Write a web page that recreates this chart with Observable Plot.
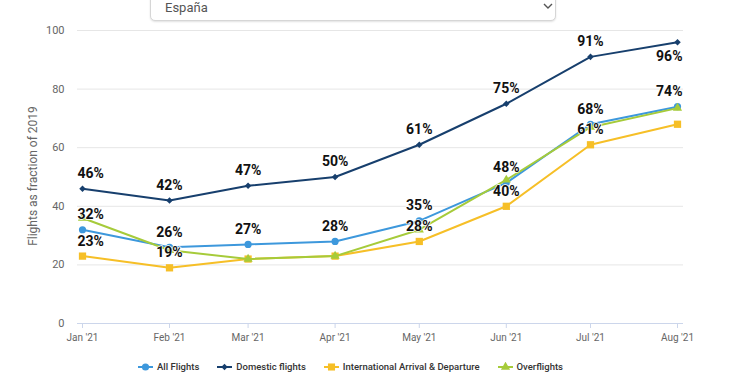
<!DOCTYPE html>
<html><head><meta charset="utf-8">
<script src="https://cdn.jsdelivr.net/npm/d3@7"></script>
<script src="https://cdn.jsdelivr.net/npm/@observablehq/plot@0.6"></script>
<style>
body{margin:0;background:#fff;font-family:Roboto,sans-serif;}
#wrap{position:relative;width:750px;height:375px;overflow:hidden;}
#chart{position:absolute;left:0;top:0;}
#dropdown{position:absolute;left:150px;top:-20px;width:406px;height:41px;border:1px solid #d6d6d6;border-radius:5px;box-shadow:0 1px 2px rgba(0,0,0,.12);background:#fff;box-sizing:border-box;}
#dropdown span{position:absolute;left:14px;top:19px;font-size:13px;line-height:15px;color:#555;}
#dropdown svg{position:absolute;left:392px;top:22px;}
#legend{position:absolute;left:138px;top:361px;display:flex;gap:18px;font-size:9.5px;line-height:12px;color:#333;font-weight:500;}
#legend .item{display:flex;align-items:center;gap:4px;}
</style></head>
<body>
<div id="wrap">
  <div id="chart"></div>
  <div id="dropdown"><span id="ddtext"></span>
    <svg width="10" height="7"><polyline points="1,1 5,5 9,1" fill="none" stroke="#555" stroke-width="1.4"/></svg>
  </div>
  <div id="legend"></div>
</div>
<script>
const selection = "España";
const months = ["2021-01-01","2021-02-01","2021-03-01","2021-04-01","2021-05-01","2021-06-01","2021-07-01","2021-08-01"];
const allFlights    = [32, 26, 27, 28, 35, 48, 68, 74];
const domestic      = [46, 42, 47, 50, 61, 75, 91, 96];
const international = [23, 19, 22, 23, 28, 40, 61, 68];
const overflights   = [36, 25, 22, 23, 32, 49, 67, 73.5];
const seriesNames  = ["All Flights", "Domestic flights", "International Arrival & Departure", "Overflights"];
const seriesColors = ["#3d98dc", "#173f6d", "#f6bf27", "#a6cb3a"];
const allLabelShown      = [true, true, true, true, true, true, true, true];
const domesticLabelShown = [true, true, true, true, true, true, true, true];
const intlLabelShown     = [true, true, false, false, true, true, true, false];
const overLabelShown     = [false, false, false, false, false, false, false, false];
const domesticLabelBelow = [false, false, false, false, false, false, false, true];
const yTicks = [0, 20, 40, 60, 80, 100];
const yTitle = "Flights as fraction of 2019";

document.getElementById("ddtext").textContent = selection;

const seriesValues = [allFlights, domestic, international, overflights];
const shownFlags = [allLabelShown, domesticLabelShown, intlLabelShown, overLabelShown];
const belowFlags = [allLabelShown.map(() => false), domesticLabelBelow, intlLabelShown.map(() => false), overLabelShown.map(() => false)];
const dates = months.map(d => new Date(d + "T00:00:00Z"));
const rows = [];
seriesNames.forEach((s, k) => {
  seriesValues[k].forEach((v, i) => {
    rows.push({series: s, k, i, date: dates[i], value: v, shown: shownFlags[k][i], below: belowFlags[k][i]});
  });
});

const markerSpec = [
  {symbol: "circle", r: 3.6, rotate: 0},
  {symbol: "square", r: 2.6, rotate: 45},
  {symbol: "square", r: 4.1, rotate: 0},
  {symbol: "triangle", r: 3.4, rotate: 0}
];

const marks = [
  Plot.gridY(yTicks.filter(t => t > 0), {stroke: "#e6e6e6", strokeOpacity: 1}),
  Plot.ruleY([0], {stroke: "#ccd6eb"}),
  Plot.axisY({ticks: yTicks, tickSize: 0, tickPadding: 13, fill: "#666", fontSize: 11, label: null}),
  Plot.axisX({ticks: dates, tickSize: 5, tickPadding: 5, stroke: "#ccd6eb", fill: "#666", fontSize: 10, tickFormat: d3.utcFormat("%b '%y"), label: null}),
  Plot.text([yTitle], {frameAnchor: "left", textAnchor: "middle", rotate: -90, dx: -44, dy: -1, fontSize: 12, fill: "#666"})
];
seriesNames.forEach((s, k) => {
  const d = rows.filter(r => r.k === k);
  marks.push(Plot.line(d, {x: "date", y: "value", stroke: seriesColors[k], strokeWidth: 2}));
  marks.push(Plot.dot(d, {x: "date", y: "value", fill: seriesColors[k], stroke: null, symbol: markerSpec[k].symbol, r: markerSpec[k].r, rotate: markerSpec[k].rotate}));
});
const lab = rows.filter(r => r.shown);
const last = dates.length - 1;
const textStyle = {x: "date", y: "value", text: d => Math.round(d.value) + "%", fontSize: 14, fontWeight: 700, fill: "#111", stroke: "white", strokeWidth: 1.5, paintOrder: "stroke"};
marks.push(Plot.text(lab.filter(r => r.i === 0), {...textStyle, textAnchor: "start", dx: -5, dy: -15}));
marks.push(Plot.text(lab.filter(r => r.i > 0 && r.i < last), {...textStyle, dy: -15}));
marks.push(Plot.text(lab.filter(r => r.i === last && !r.below), {...textStyle, textAnchor: "end", dx: 5, dy: -15}));
marks.push(Plot.text(lab.filter(r => r.i === last && r.below), {...textStyle, textAnchor: "end", dx: 5, dy: 14}));

const chart = Plot.plot({
  width: 750, height: 375,
  marginTop: 30, marginBottom: 52, marginLeft: 77, marginRight: 67,
  style: {fontFamily: "Roboto, sans-serif", background: "transparent"},
  x: {type: "utc", domain: [dates[0], dates[last]], insetLeft: 5, insetRight: 6},
  y: {domain: [0, 100]},
  marks
});
document.getElementById("chart").appendChild(chart);

// legend
const legend = document.getElementById("legend");
const ns = "http://www.w3.org/2000/svg";
seriesNames.forEach((s, k) => {
  const item = document.createElement("div"); item.className = "item";
  const svg = document.createElementNS(ns, "svg");
  svg.setAttribute("width", 15); svg.setAttribute("height", 10);
  const line = document.createElementNS(ns, "line");
  line.setAttribute("x1", 0); line.setAttribute("x2", 15); line.setAttribute("y1", 5); line.setAttribute("y2", 5);
  line.setAttribute("stroke", seriesColors[k]); line.setAttribute("stroke-width", 2);
  svg.appendChild(line);
  const sym = document.createElementNS(ns, "path");
  const symTypes = [d3.symbolCircle, d3.symbolSquare, d3.symbolSquare, d3.symbolTriangle];
  const sizes = [Math.PI * 3.6 * 3.6, Math.PI * 2.6 * 2.6, Math.PI * 4 * 4, Math.PI * 3.4 * 3.4];
  sym.setAttribute("d", d3.symbol(symTypes[k], sizes[k])());
  sym.setAttribute("transform", "translate(7.5,5) rotate(" + markerSpec[k].rotate + ")");
  sym.setAttribute("fill", seriesColors[k]);
  svg.appendChild(sym);
  const t = document.createElement("span"); t.textContent = s;
  item.appendChild(svg); item.appendChild(t);
  legend.appendChild(item);
});
</script>
</body></html>
